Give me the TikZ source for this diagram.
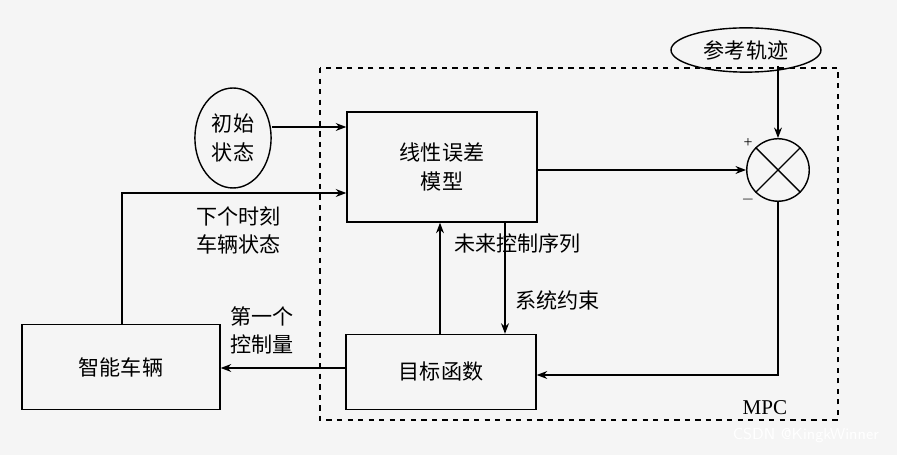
\documentclass[tikz,border=0pt]{standalone}
\usepackage{fontspec}
\setmainfont{Liberation Serif}
\newfontfamily\cjk{Noto Sans CJK SC}
\usetikzlibrary{shapes.geometric,arrows.meta}
\begin{document}
\begin{tikzpicture}[x=0.02cm,y=-0.02cm,
  box/.style={draw,thick,minimum width=3.8cm,align=center,font=\cjk\fontsize{12}{16}\selectfont},
  lbl/.style={align=left,font=\cjk\fontsize{12}{16}\selectfont,inner sep=1pt},
  arr/.style={-{Stealth[length=6pt]},thick}]
\fill[gray!8] (0,0) rectangle (897,455);
\useasboundingbox (0,0) rectangle (897,455);
\draw[dashed,thick] (320,68) rectangle (838,420);
\node[box,minimum height=2.2cm] (model) at (442,167) {线性误差\\模型};
\node[box,minimum height=1.5cm] (obj) at (441,372) {目标函数};
\node[box,minimum width=3.96cm,minimum height=1.7cm] (car) at (121,367) {智能车辆};
\node[draw,thick,ellipse,minimum width=3cm,minimum height=0.8cm,font=\cjk\fontsize{12}{16}\selectfont] (ref) at (746,50) {参考轨迹};
\node[draw,thick,ellipse,minimum width=1.5cm,minimum height=2cm,align=center,font=\cjk\fontsize{12}{16}\selectfont] (init) at (233,138) {初始\\状态};
\node[draw,thick,circle,minimum size=1.25cm] (sum) at (778,170) {};
\draw[thick] (sum.north west)--(sum.south east) (sum.north east)--(sum.south west);
\coordinate (refout) at (778,66);
\node[font=\small] at (748,143) {+};
\node[font=\small] at (748,200) {$-$};
\node[font=\fontsize{12}{14}\selectfont] at (765,408) {MPC};
\draw[arr] (init.east|-0,127) -- (model.west|-0,127);
\draw[arr] (model.east|-sum) -- (sum.west);
\draw[arr] (refout) -- (sum.north);
\draw[arr] (sum.south) |- (obj.east|-0,375);
\draw[arr] (obj.north-|440,0) -- (model.south-|440,0);
\draw[arr] (model.south-|505,0) -- (obj.north-|505,0);
\draw[arr] (obj.west|-0,368) -- (car.east|-0,368);
\draw[arr] (car.north-|122,0) |- (model.west|-0,193);
\node[lbl,anchor=west] at (194,230) {下个时刻\\车辆状态};
\node[lbl,anchor=west] at (452,243) {未来控制序列};
\node[lbl,anchor=west] at (513,300) {系统约束};
\node[lbl,anchor=west] at (228,330) {第一个\\控制量};
\node[anchor=east,text=white,font=\sffamily\fontsize{9}{11}\selectfont] at (885,435) {CSDN @KingkWinner};
\end{tikzpicture}
\end{document}
